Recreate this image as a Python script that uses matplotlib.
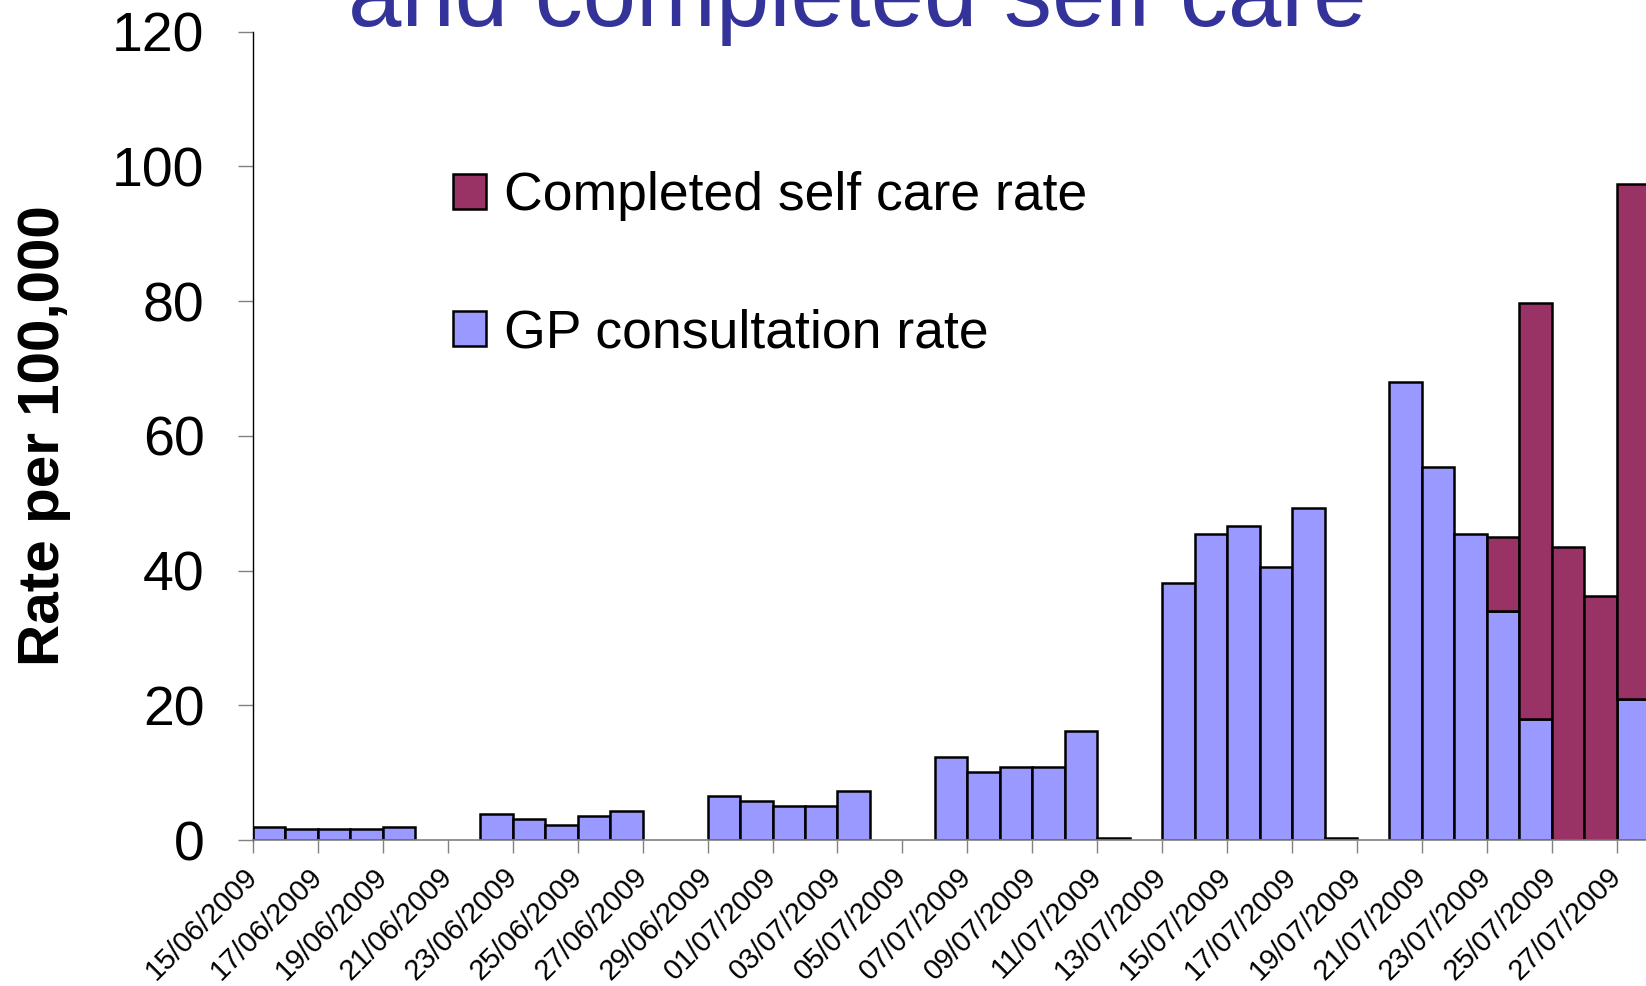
import numpy as np
import pandas as pd
import matplotlib
matplotlib.use('Agg')
from matplotlib import pyplot as plt

plt.rcParams['font.family'] = ['Liberation Sans', 'DejaVu Sans']

# one bar per day, 15/06/2009 .. 27/07/2009
dates = pd.date_range('2009-06-15', '2009-07-27').strftime('%d/%m/%Y').tolist()

# None = no bar drawn that day (weekends)
gp_rate = [2.0, 1.6, 1.6, 1.6, 2.0, None, None,
           3.9, 3.2, 2.3, 3.5, 4.3, None, None,
           6.6, 5.8, 5.0, 5.0, 7.3, None, None,
           12.3, 10.1, 10.8, 10.8, 16.2, 0.3, None,
           38.2, 45.4, 46.6, 40.5, 49.3, 0.3, None,
           68.0, 55.3, 45.4, 34.0, 18.0, None, None,
           21.0]
self_care_rate = [None] * 38 + [11.0, 61.7, 43.5, 36.2, 76.4]

gp = np.array(gp_rate, dtype=float)
sc = np.array(self_care_rate, dtype=float)
x = np.arange(len(dates))

fig = plt.figure(figsize=(16.46, 9.86), dpi=100)
ax = fig.add_axes([0.1537, 0.148, 1 - 0.1537, 0.820])

ax.bar(x, gp, width=1, align='edge', color='#9999ff', edgecolor='black',
       linewidth=1.8, label='GP consultation rate')
ax.bar(x, sc, width=1, align='edge', bottom=np.nan_to_num(gp), color='#993366',
       edgecolor='black', linewidth=1.8, label='Completed self care rate')

ax.set_ylim(0, 120)
ax.set_xlim(0, 42.9)
ax.set_yticks(range(0, 121, 20))
ax.set_xticks(x[::2])
ax.set_xticklabels(dates[::2], rotation=45, ha='right', va='center',
                   rotation_mode='anchor', fontsize=21)

for s in ['top', 'right']:
    ax.spines[s].set_visible(False)
ax.spines['left'].set_color('black')
ax.spines['left'].set_linewidth(1)
ax.spines['bottom'].set_color('#808080')
ax.spines['bottom'].set_linewidth(1.2)

ax.tick_params(axis='y', direction='out', length=11, width=1, color='#808080',
               labelsize=40, pad=24)
ax.tick_params(axis='x', direction='out', length=9, width=1, color='#808080', pad=14)

ax.set_ylabel('Rate per 100,000', fontsize=42, fontweight='bold', va='center')
ax.yaxis.set_label_coords(-0.150, 0.5)

handles, labels = ax.get_legend_handles_labels()
ax.legend(handles[::-1], labels[::-1], loc='upper left',
          bbox_to_anchor=(453 / 1646, 1 - 171 / 986), bbox_transform=fig.transFigure,
          frameon=False, fontsize=38.5, handlelength=0.62, handleheight=0.62,
          handletextpad=0.33, labelspacing=1.63, borderpad=0, borderaxespad=0)

fig.text(857 / 1646, 1 - 26 / 986, 'and completed self care', ha='center',
         va='baseline', fontsize=69, color='#333399')

fig.savefig('out.png', dpi=100)
